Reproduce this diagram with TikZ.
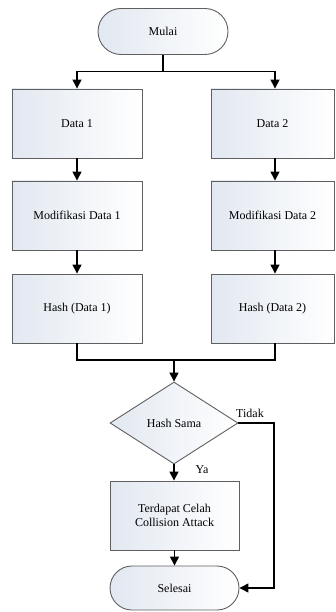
\documentclass[tikz,border=0pt]{standalone}
\usepackage{fontspec}
\setmainfont{Liberation Serif}
\usetikzlibrary{shapes.geometric,shapes.misc,arrows.meta}
\definecolor{fillb}{RGB}{226,232,241}
\definecolor{edge}{RGB}{95,95,95}
\begin{document}
\begin{tikzpicture}[x=1pt,y=-1pt,
  base/.style={draw=edge,line width=0.9pt,left color=fillb,right color=white,
    inner sep=0pt,font=\fontsize{12}{14}\selectfont,align=center},
  proc/.style={base,rectangle,minimum width=#1,minimum height=69},
  term/.style={base,rounded rectangle,minimum width=#1,minimum height=46},
  decision/.style={base,diamond,minimum width=128,minimum height=82,aspect=1.56},
  conn/.style={line width=1.4pt,black},
  arr/.style={conn,-{Triangle[width=9pt,length=9pt]}},
  lbl/.style={font=\fontsize{12}{14}\selectfont,inner sep=0pt}]
\useasboundingbox (0,0) rectangle (335,612);
\node[term=130] (mulai) at (163,31.5) {Mulai};
\node[proc=130] (d1) at (77,123.5) {Data 1};
\node[proc=123] (d2) at (272.5,123.5) {Data 2};
\node[proc=130] (m1) at (77,215.5) {Modifikasi Data 1};
\node[proc=123] (m2) at (272.5,215.5) {Modifikasi Data 2};
\node[proc=130] (h1) at (77,308.5) {Hash (Data 1)};
\node[proc=123] (h2) at (272.5,308.5) {Hash (Data 2)};
\node[decision] (dec) at (174,423) {Hash Sama};
\node[proc=129] (cel) at (174.5,515.5) {Terdapat Celah\\Collision Attack};
\node[term=129,minimum height=44] (sel) at (174.5,588) {Selesai};
\coordinate (split) at (163,71.5);
\coordinate (join) at (174,360);
\coordinate (rt) at (274,423);
% split
\draw[conn] (mulai.south) -- (split);
\draw[arr] (split) -| (d1.north);
\draw[arr] (split) -| ([xshift=2.5pt]d2.north);
\draw[arr] (d1) -- (m1);
\draw[arr] ([xshift=2.5pt]d2.south) -- ([xshift=2.5pt]m2.north);
\draw[arr] (m1) -- (h1);
\draw[arr] ([xshift=2.5pt]m2.south) -- ([xshift=2.5pt]h2.north);
% join
\draw[conn] (h1.south) |- (join);
\draw[conn] ([xshift=2.5pt]h2.south) |- (join);
\draw[arr] (join) -- (dec.north);
\draw[arr] (dec.south) -- (dec.south |- cel.north);
\draw[arr] (cel.south) -- (sel.north);
\draw[arr] (dec.east) -- (rt) |- (sel.east);
\node[lbl] (tidak) at (250,413) {Tidak};
\node[lbl] (ya) at (202,470) {Ya};
\end{tikzpicture}
\end{document}
